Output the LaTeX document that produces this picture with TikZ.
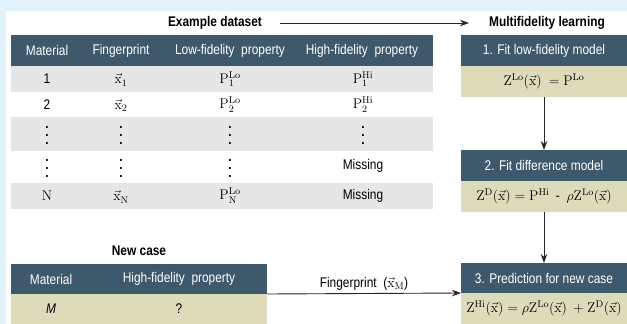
\RequirePackage{fix-cm}
\documentclass[tikz,border=0pt]{standalone}
\usepackage{amsmath}
\usepackage[no-math]{fontspec}
\setmainfont{Liberation Sans}[FakeStretch=0.85]
\usetikzlibrary{positioning,arrows.meta}
\definecolor{slate}{RGB}{61, 89, 107}
\definecolor{sand}{RGB}{222, 219, 187}
\definecolor{rowgray}{RGB}{230, 230, 230}
\definecolor{skyblue}{RGB}{225, 242, 250}
\newcommand{\cellfont}{\fontsize{14}{16}\selectfont}
\newcommand{\vdts}{\vbox{\baselineskip=8pt\lineskiplimit=-20pt\hbox{\bfseries .}\hbox{\bfseries .}\hbox{\bfseries .}}}
\newcommand{\xv}{\vec{\mathrm{x}}}

\begin{document}
\begin{tikzpicture}[x=1pt, y=-1pt,
  band/.style={inner sep=0pt, outer sep=0pt, anchor=north west},
  head/.style={band, fill=slate, text=white, font=\cellfont},
  plain/.style={band, fill=sand, font=\cellfont},
  stripe/.style={band, fill=rowgray},
  cell/.style={inner sep=0pt, font=\cellfont},
  hcell/.style={cell, text=white},
  title/.style={inner sep=0pt, font=\cellfont\bfseries},
  flow/.style={-{Stealth[length=9pt, width=6.5pt]}, line width=0.9pt, draw=black!85}
]
\useasboundingbox (0,0) rectangle (627,324);
\fill[skyblue] (0,0) rectangle (627,324);
\fill[white] (6,11) rectangle (627,324);

% example dataset
\node[title] (extitle) at (215,23) {Example dataset};
\node[head, minimum width=422pt, minimum height=31pt] (dshead) at (11,35) {};
\node[stripe, minimum width=422pt, minimum height=26pt] (stripe1) at (11,66) {};
\node[stripe, minimum width=422pt, minimum height=34pt] (stripe3) at (11,117) {};
\node[stripe, minimum width=422pt, minimum height=26pt] (stripe5) at (11,183) {};
\node[hcell] (hmat) at (47,50.5) {Material};
\node[hcell] (hfp) at (121,50.5) {Fingerprint};
\node[hcell] (hlo) at (230,50.5) {Low-fidelity\ \ property};
\node[hcell] (hhi) at (362,50.5) {High-fidelity\ \ property};
% rows
\node[cell] (mat1) at (47,79) {1};
\node[cell] (fp1) at (121,80) {$\xv_1$};
\node[cell] (lo1) at (230,79) {$\mathrm{P}_1^{\mathrm{Lo}}$};
\node[cell] (hi1) at (363,79) {$\mathrm{P}_1^{\mathrm{Hi}}$};
\node[cell] (mat2) at (47,104.5) {2};
\node[cell] (fp2) at (121,105.5) {$\xv_2$};
\node[cell] (lo2) at (230,104.5) {$\mathrm{P}_2^{\mathrm{Lo}}$};
\node[cell] (hi2) at (363,104.5) {$\mathrm{P}_2^{\mathrm{Hi}}$};
\node[cell] (mat3) at (47,135) {\vdts};
\node[cell] (fp3) at (121,135) {\vdts};
\node[cell] (lo3) at (230,135) {\vdts};
\node[cell] (hi3) at (363,135) {\vdts};
\node[cell] (mat4) at (47,168) {\vdts};
\node[cell] (fp4) at (121,168) {\vdts};
\node[cell] (lo4) at (230,168) {\vdts};
\node[cell] (hi4) at (363,166) {Missing};
\node[cell] (mat5) at (47,196) {$\mathrm{N}$};
\node[cell] (fp5) at (121,197) {$\xv_{\mathrm{N}}$};
\node[cell] (lo5) at (230,196) {$\mathrm{P}_{\mathrm{N}}^{\mathrm{Lo}}$};
\node[cell] (hi5) at (363,196) {Missing};

% new case
\node[title] (nctitle) at (139,251) {New case};
\node[head, minimum width=256pt, minimum height=30pt] (nchead) at (11,264) {};
\node[plain, minimum width=256pt, minimum height=30pt] (ncbody) at (11,294) {};
\node[hcell] (ncmat) at (51,279) {Material};
\node[hcell] (nchi) at (179,279) {High-fidelity\ \ property};
\node[cell] (ncm) at (51,309) {\itshape M};
\node[cell] (ncq) at (179,309) {?};

% multifidelity learning
\node[title] (mftitle) at (547,23) {Multifidelity learning};
\node[head, minimum width=166pt, minimum height=31pt] (fit1) at (461,35) {1. Fit low-fidelity model};
\node[plain, minimum width=166pt, minimum height=31pt] (eq1) at (461,66) {$\mathrm{Z}^{\mathrm{Lo}}(\xv)\ = \mathrm{P}^{\mathrm{Lo}}$};
\node[head, minimum width=166pt, minimum height=31pt] (fit2) at (461,150) {2. Fit\ difference\ model};
\node[plain, minimum width=166pt, minimum height=31pt] (eq2) at (461,181) {$\mathrm{Z}^{\mathrm{D}}(\xv) = \mathrm{P}^{\mathrm{Hi}}\ \ \text{-}\ \ \rho\mathrm{Z}^{\mathrm{Lo}}(\xv)$};
\node[head, minimum width=166pt, minimum height=30pt] (fit3) at (461,263) {3. Prediction\ for\ new\ case};
\node[plain, minimum width=166pt, minimum height=31pt] (eq3) at (461,293) {$\mathrm{Z}^{\mathrm{Hi}}(\xv) = \rho\mathrm{Z}^{\mathrm{Lo}}(\xv)\ + \mathrm{Z}^{\mathrm{D}}(\xv)$};

\draw[flow] ([xshift=18pt]extitle.east) -- ([xshift=-20pt]mftitle.west);
\draw[flow] (eq1.south) -- (fit2.north);
\draw[flow] (eq2.south) -- (fit3.north);
\draw[flow] (nchead.south east) -- node[above=3pt, cell] {Fingerprint\ \ ($\xv_{\mathrm{M}}$)} (fit3.south west);
\end{tikzpicture}
\end{document}
